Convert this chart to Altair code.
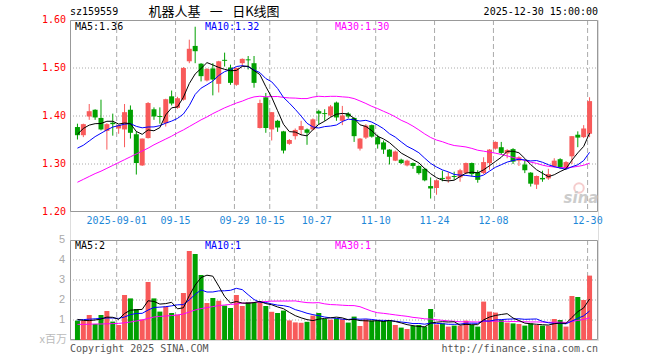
import altair as alt
import pandas as pd
import numpy as np

# ---------------- data ----------------
opens = [1.377, 1.360, 1.399, 1.413, 1.396, 1.369, 1.386, 1.374, 1.372, 1.413,
         1.362, 1.297, 1.354, 1.414, 1.400, 1.385, 1.441, 1.417, 1.434, 1.514,
         1.546, 1.509, 1.474, 1.499, 1.467, 1.517, 1.501, 1.465, 1.510, 1.518,
         1.510, 1.375, 1.439, 1.372, 1.390, 1.368, 1.342, 1.358, 1.371, 1.372,
         1.372, 1.410, 1.406, 1.401, 1.428, 1.390, 1.405, 1.396, 1.332, 1.355,
         1.381, 1.356, 1.345, 1.330, 1.307, 1.309, 1.297, 1.302, 1.296, 1.290,
         1.254, 1.250, 1.271, 1.268, 1.275, 1.272, 1.281, 1.302, 1.283, 1.281,
         1.302, 1.332, 1.335, 1.322, 1.331, 1.307, 1.299, 1.282, 1.257, 1.271,
         1.270, 1.295, 1.310, 1.291, 1.316, 1.361, 1.356, 1.363]
highs = [1.384, 1.384, 1.425, 1.414, 1.434, 1.385, 1.405, 1.382, 1.425, 1.422,
         1.368, 1.353, 1.429, 1.418, 1.418, 1.436, 1.453, 1.440, 1.502, 1.559,
         1.586, 1.510, 1.500, 1.510, 1.515, 1.532, 1.507, 1.501, 1.520, 1.525,
         1.525, 1.434, 1.448, 1.408, 1.392, 1.369, 1.352, 1.374, 1.390, 1.374,
         1.395, 1.413, 1.414, 1.423, 1.430, 1.421, 1.408, 1.397, 1.354, 1.383,
         1.382, 1.361, 1.349, 1.331, 1.328, 1.311, 1.309, 1.303, 1.297, 1.292,
         1.272, 1.268, 1.286, 1.283, 1.284, 1.290, 1.303, 1.303, 1.287, 1.314,
         1.331, 1.347, 1.346, 1.331, 1.333, 1.316, 1.309, 1.283, 1.276, 1.286,
         1.290, 1.312, 1.312, 1.306, 1.358, 1.368, 1.381, 1.439]
lows = [1.351, 1.356, 1.392, 1.392, 1.370, 1.330, 1.359, 1.363, 1.335, 1.353,
        1.278, 1.296, 1.353, 1.392, 1.384, 1.378, 1.422, 1.415, 1.432, 1.510,
        1.510, 1.472, 1.472, 1.443, 1.449, 1.503, 1.465, 1.463, 1.503, 1.497,
        1.459, 1.374, 1.365, 1.349, 1.367, 1.322, 1.340, 1.351, 1.360, 1.340,
        1.370, 1.383, 1.390, 1.398, 1.390, 1.381, 1.395, 1.346, 1.328, 1.352,
        1.355, 1.332, 1.321, 1.299, 1.306, 1.300, 1.295, 1.290, 1.278, 1.264,
        1.228, 1.236, 1.264, 1.261, 1.267, 1.263, 1.279, 1.274, 1.261, 1.279,
        1.288, 1.330, 1.319, 1.312, 1.300, 1.296, 1.281, 1.253, 1.248, 1.263,
        1.267, 1.293, 1.290, 1.289, 1.300, 1.335, 1.354, 1.356]
closes = [1.360, 1.383, 1.410, 1.397, 1.372, 1.383, 1.383, 1.381, 1.408, 1.365,
          1.302, 1.353, 1.427, 1.399, 1.398, 1.435, 1.426, 1.437, 1.500, 1.540,
          1.535, 1.483, 1.498, 1.476, 1.514, 1.515, 1.469, 1.500, 1.519, 1.516,
          1.469, 1.427, 1.375, 1.408, 1.376, 1.328, 1.350, 1.371, 1.379, 1.365,
          1.393, 1.405, 1.404, 1.420, 1.397, 1.401, 1.399, 1.358, 1.353, 1.380,
          1.357, 1.341, 1.330, 1.315, 1.326, 1.302, 1.307, 1.296, 1.281, 1.266,
          1.249, 1.266, 1.269, 1.274, 1.273, 1.287, 1.302, 1.279, 1.267, 1.304,
          1.330, 1.346, 1.323, 1.329, 1.305, 1.314, 1.287, 1.259, 1.275, 1.268,
          1.279, 1.307, 1.292, 1.304, 1.358, 1.355, 1.374, 1.431]
volumes = [0.97, 0.97, 1.25, 0.80, 1.25, 1.45, 0.92, 0.75, 2.25, 2.08,
           1.55, 1.03, 2.90, 2.08, 1.42, 1.67, 1.35, 1.27, 2.35, 4.45,
           4.30, 3.25, 1.85, 2.10, 1.96, 1.72, 1.60, 2.25, 1.70, 1.90,
           1.90, 1.90, 1.70, 1.41, 1.35, 1.47, 0.98, 0.88, 0.86, 0.91,
           1.22, 1.35, 1.05, 1.02, 1.08, 1.03, 0.87, 1.17, 0.70, 1.03,
           0.97, 0.97, 0.95, 0.97, 0.75, 0.62, 0.55, 0.70, 0.75, 0.67,
           1.55, 0.78, 0.83, 0.67, 0.72, 0.72, 0.97, 0.75, 0.67, 1.92,
           1.42, 1.37, 1.00, 0.87, 0.83, 0.80, 0.72, 0.83, 0.75, 0.72,
           0.72, 1.05, 1.00, 0.67, 2.20, 2.15, 2.00, 3.22]

# moving-average values at the left edge (their windows start before the chart)
ma5_head = [1.362, 1.374, 1.381, 1.384]
ma10_head = [1.333, 1.339, 1.348, 1.357, 1.364, 1.371, 1.377, 1.380, 1.383]
ma30_head = [1.262, 1.268, 1.274, 1.280, 1.285, 1.291, 1.297, 1.303, 1.309, 1.315,
             1.321, 1.327, 1.333, 1.340, 1.346, 1.352, 1.358, 1.365, 1.371, 1.378,
             1.385, 1.392, 1.398, 1.405, 1.411, 1.417, 1.422, 1.427, 1.431]
vma5_head = [1.03, 0.98, 0.97, 1.00]
vma10_head = [1.00, 1.02, 1.04, 1.06, 1.08, 1.10, 1.10, 1.08, 1.15]
vma30_head = [0.78, 0.78, 0.79, 0.80, 0.80, 0.81, 0.82, 0.83, 0.86, 0.90,
              0.95, 1.00, 1.08, 1.15, 1.18, 1.20, 1.22, 1.25, 1.30, 1.40,
              1.50, 1.57, 1.62, 1.67, 1.72, 1.75, 1.78, 1.80, 1.85]

date_idx = [7, 17, 27, 33, 41, 51, 61, 71, 87]
date_text = ["2025-09-01", "09-15", "09-29", "10-15", "10-27", "11-10", "11-24", "12-08", "12-30"]
price_ticks = [1.20, 1.30, 1.40, 1.50, 1.60]
price_tick_text = ["1.20", "1.30", "1.40", "1.50", "1.60"]
vol_ticks = [1, 2, 3, 4, 5]
vol_tick_text = ["1", "2", "3", "4", "5"]
price_legend = ["MA5:1.36", "MA10:1.32", "MA30:1.30"]
vol_legend = ["MA5:2", "MA10:1", "MA30:1"]

# ---------------- build table ----------------
def moving(values, n, head):
    s = pd.Series(values, dtype=float).rolling(n).mean()
    s.iloc[:len(head)] = head
    return s.round(4)

df = pd.DataFrame({"i": range(len(closes)), "open": opens, "high": highs,
                   "low": lows, "close": closes, "vol": volumes})
df["dir"] = np.where(df["close"] >= df["open"], "up", "down")
df["ma5"] = moving(closes, 5, ma5_head)
df["ma10"] = moving(closes, 10, ma10_head)
df["ma30"] = moving(closes, 30, ma30_head)
df["vma5"] = moving(volumes, 5, vma5_head)
df["vma10"] = moving(volumes, 10, vma10_head)
df["vma30"] = moving(volumes, 30, vma30_head)

RED = "#f85a5a"
GREEN = "#00a000"
GRID = "#aaaaaa"
MONO = "DejaVu Sans Mono"
W, PH = 528, 192

XS = alt.Scale(domain=[-5 / 12, 88 - 5 / 12], nice=False, zero=False)
PS = alt.Scale(domain=[1.2, 1.6], range=[PH, 0], nice=False, zero=False)
VS = alt.Scale(domain=[0, 5], range=[320, 220], nice=False, zero=False)
color = alt.Color("dir:N", scale=alt.Scale(domain=["up", "down"], range=[RED, GREEN]), legend=None)

base = alt.Chart(df)
one = alt.Chart(pd.DataFrame({"k": [0]}))

layers = []

# horizontal dotted grids
pg = alt.Chart(pd.DataFrame({"v": [1.3, 1.4, 1.5]})).mark_rule(color=GRID, strokeDash=[1, 2]).encode(
    y=alt.Y("v:Q", scale=PS, axis=None), x=alt.value(0), x2=alt.value(W))
vg = alt.Chart(pd.DataFrame({"v": [1, 2, 3, 4]})).mark_rule(color=GRID, strokeDash=[1, 2]).encode(
    y=alt.Y("v:Q", scale=VS, axis=None), x=alt.value(0), x2=alt.value(W))
layers += [pg, vg]

# vertical dashed lines at the labelled dates
dl = pd.DataFrame({"xi": [d - 1 / 3 for d in date_idx], "t": date_text})
for y0, y1 in [(0, PH), (220, 320)]:
    layers.append(alt.Chart(dl).mark_rule(color=GRID, strokeDash=[5, 3]).encode(
        x=alt.X("xi:Q", scale=XS, axis=None), y=alt.value(y0), y2=alt.value(y1)))

# frames
for y0, y1 in [(0.5, PH - 0.5), (220.5, 319.5)]:
    layers.append(one.mark_rect(filled=False, stroke="#999999", strokeWidth=1).encode(
        x=alt.value(0.5), x2=alt.value(W - 0.5), y=alt.value(y0), y2=alt.value(y1)))

# watermark
layers.append(one.mark_point(shape="circle", filled=False, stroke="#f2b8b8", strokeWidth=2, size=90).encode(
    x=alt.value(509), y=alt.value(168)))

# candles
wick = base.mark_rule(strokeWidth=1).encode(
    x=alt.X("i:Q", scale=XS, axis=None),
    y=alt.Y("low:Q", scale=PS, axis=None), y2="high:Q", color=color)
body = base.mark_bar(size=5).encode(
    x=alt.X("i:Q", scale=XS, axis=None),
    y=alt.Y("open:Q", scale=PS, axis=None), y2="close:Q", color=color)
layers += [wick, body]

# price moving averages
for col, c in [("ma30", "#ff00ff"), ("ma10", "#0000ff"), ("ma5", "#000000")]:
    layers.append(base.mark_line(color=c, strokeWidth=1).encode(
        x=alt.X("i:Q", scale=XS, axis=None), y=alt.Y(f"{col}:Q", scale=PS, axis=None)))

# volume bars
vbar = base.mark_bar(size=5).encode(
    x=alt.X("i:Q", scale=XS, axis=None),
    y=alt.Y("vol:Q", scale=VS, axis=None), y2=alt.datum(0), color=color)
layers.append(vbar)
for col, c in [("vma30", "#ff00ff"), ("vma10", "#0000ff"), ("vma5", "#000000")]:
    layers.append(base.mark_line(color=c, strokeWidth=1).encode(
        x=alt.X("i:Q", scale=XS, axis=None), y=alt.Y(f"{col}:Q", scale=VS, axis=None)))

# axis labels
layers.append(alt.Chart(pd.DataFrame({"v": price_ticks, "t": price_tick_text})).mark_text(
    align="right", baseline="middle", font=MONO, fontSize=10, color="#ff0000").encode(
    x=alt.value(-4), y=alt.Y("v:Q", scale=PS, axis=None), text="t:N"))
layers.append(alt.Chart(pd.DataFrame({"v": vol_ticks, "t": vol_tick_text})).mark_text(
    align="right", baseline="middle", font="Liberation Sans", fontSize=11, color="#aaaaaa").encode(
    x=alt.value(-5), y=alt.Y("v:Q", scale=VS, axis=None), text="t:N"))
layers.append(alt.Chart(dl).mark_text(
    align="center", baseline="middle", font=MONO, fontSize=10, color="#1e88d8").encode(
    x=alt.X("xi:Q", scale=XS, axis=None), y=alt.value(PH + 9), text="t:N"))


def label(text, x, y, col, align="left", font=MONO, size=10, **kw):
    return alt.Chart(pd.DataFrame({"t": [text]})).mark_text(
        align=align, baseline="middle", font=font, fontSize=size, color=col, **kw).encode(
        x=alt.value(x), y=alt.value(y), text="t:N")


leg_cols = ["#000000", "#0000ff", "#ff00ff"]
leg_x = [5, 135, 265]
for t, x, c in zip(price_legend, leg_x, leg_cols):
    layers.append(label(t, x, 7, c))
for t, x, c in zip(vol_legend, leg_x, leg_cols):
    layers.append(label(t, x, 226, c))

layers.append(label("sz159559", 0, -8, "#000000"))
layers.append(label("机器人基\u2002 一\u2002 日K线图", 144, -8, "#000000", align="center",
                    font="Noto Sans CJK SC", size=13))
layers.append(label("2025-12-30 15:00:00", W, -8, "#000000", align="right"))
layers.append(label("x百万", -3, 320, "#bbbbbb", align="right", font="Noto Sans CJK SC", size=11))
layers.append(label("Copyright 2025 SINA.COM", 0, 329, "#555555"))
layers.append(label("http://finance.sina.com.cn", W, 329, "#555555", align="right"))
layers.append(label("sina", 511, 178, "#cccccc", align="center", font="DejaVu Sans",
                    size=15, fontStyle="italic", fontWeight="bold"))

chart = alt.layer(*layers).resolve_scale(y="independent").properties(
    width=W, height=320,
    autosize=alt.AutoSizeParams(type="none"),
    padding={"left": 70, "top": 20, "right": 62, "bottom": 20},
).configure_view(stroke=None).configure(background="white")

chart.save("out.html", embed_options={"renderer": "svg", "actions": False})
